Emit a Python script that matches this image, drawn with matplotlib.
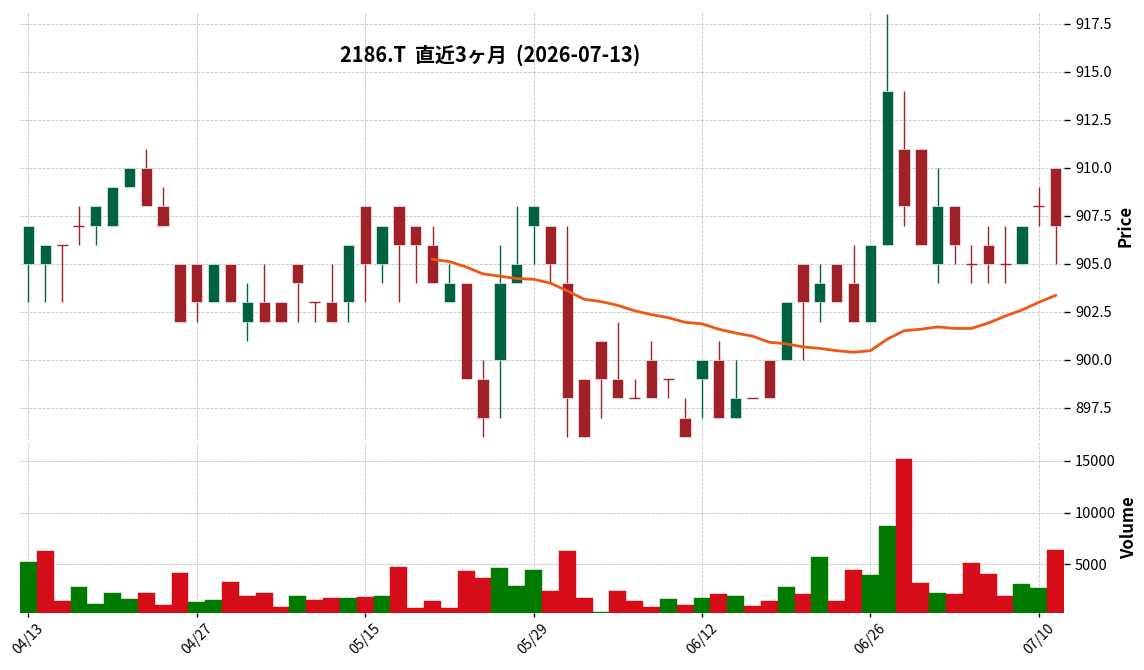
import numpy as np
import pandas as pd
import matplotlib
matplotlib.use("Agg")
import matplotlib.pyplot as plt

plt.rcParams['font.family'] = ['Noto Sans CJK JP', 'DejaVu Sans']

# 東証の営業日 (祝日を除く)
holidays = ['2026-04-29', '2026-05-04', '2026-05-05', '2026-05-06']
dates = pd.bdate_range('2026-04-13', '2026-07-13', freq='C', holidays=holidays)

opens = [905, 905, 906, 907, 907, 907, 909, 910, 908, 905,
         905, 903, 905, 902, 903, 903, 905, 903, 903, 903,
         908, 905, 908, 907, 906, 903, 904, 899, 900, 904,
         907, 907, 904, 899, 901, 899, 898, 900, 899, 897,
         899, 900, 897, 898, 900, 900, 905, 903, 905, 904,
         902, 906, 911, 911, 905, 908, 905, 906, 905, 905,
         908, 910]
highs = [907, 906, 906, 908, 908, 909, 910, 911, 909, 905,
         905, 905, 905, 904, 905, 903, 905, 903, 905, 906,
         908, 907, 908, 907, 907, 905, 904, 900, 906, 908,
         908, 907, 907, 899, 901, 902, 899, 901, 899, 898,
         900, 901, 900, 898, 900, 903, 905, 905, 905, 906,
         906, 918, 914, 911, 910, 908, 906, 907, 907, 907,
         909, 910]
lows = [903, 903, 903, 906, 906, 907, 909, 908, 907, 902,
        902, 903, 903, 901, 902, 902, 902, 902, 902, 902,
        903, 904, 903, 904, 904, 903, 899, 896, 897, 904,
        905, 904, 896, 896, 897, 898, 898, 898, 898, 896,
        897, 897, 897, 898, 898, 900, 900, 902, 903, 902,
        902, 906, 907, 906, 904, 905, 904, 904, 904, 905,
        907, 905]
closes = [907, 906, 906, 907, 908, 909, 910, 908, 907, 902,
          903, 905, 903, 903, 902, 902, 904, 903, 902, 906,
          905, 907, 906, 906, 904, 904, 899, 897, 904, 905,
          908, 905, 898, 896, 899, 898, 898, 898, 899, 896,
          900, 897, 898, 898, 898, 903, 903, 904, 903, 902,
          906, 914, 908, 906, 908, 906, 905, 905, 905, 907,
          908, 907]
volumes = [5220, 6280, 1470, 2820, 1190, 2240, 1670, 2240, 1090, 4170,
           1380, 1570, 3300, 1950, 2240, 900, 1950, 1570, 1760, 1760,
           1860, 1950, 4740, 800, 1470, 800, 4360, 3690, 4650, 2920,
           4450, 2440, 6280, 1760, 400, 2440, 1470, 900, 1670, 1090,
           1760, 2150, 1950, 990, 1470, 2820, 2150, 5700, 1470, 4450,
           3970, 8690, 15220, 3200, 2240, 2150, 5130, 4070, 1950, 3110,
           2720, 6380]

title = '2186.T  直近3ヶ月  (2026-07-13)'
mav = 25

up_c, down_c = '#006340', '#a02128'
vup_c, vdown_c = '#007a00', '#d50d18'
ma_c = '#ef5714'
grid_c = '#c4c4c4'

o = np.array(opens, float)
h = np.array(highs, float)
l = np.array(lows, float)
c = np.array(closes, float)
v = np.array(volumes, float)
x = np.arange(len(c))

fig = plt.figure(figsize=(11.44, 6.7), dpi=100)
ax = fig.add_axes([20 / 1144, 1 - 440 / 670, 1044 / 1144, 428 / 670])
axv = fig.add_axes([20 / 1144, 1 - 612.7 / 670, 1044 / 1144, 169.7 / 670], sharex=ax)

# ローソク足
up = c > o
colors = np.where(up, up_c, down_c)
ax.vlines(x, l, h, colors=colors, linewidth=1.0, zorder=2)
body_bottom = np.minimum(o, c)
body_h = np.abs(c - o)
ax.bar(x, body_h, bottom=body_bottom, width=0.67, color=colors,
       edgecolor='white', linewidth=0.4, zorder=3)
# 寄引同時線
doji = body_h == 0
ax.hlines(c[doji], x[doji] - 0.33, x[doji] + 0.33, colors=colors[doji],
          linewidth=1.0, zorder=3)

# 移動平均
ma = pd.Series(c).rolling(mav).mean()
ax.plot(x, ma, color=ma_c, linewidth=2.0, zorder=4)

# 出来高 (前日終値比で色分け)
prev = np.concatenate([[o[0]], c[:-1]])
vcolors = np.where(c > prev, vup_c, vdown_c)
axv.bar(x, v, width=1.0, color=vcolors, edgecolor=vcolors, linewidth=0.3)

ax.set_xlim(-0.5, len(c) - 0.5)
ax.set_ylim(895.83, 918.12)
axv.set_ylim(300, v.max() * 1.1)

ax.set_yticks(np.arange(897.5, 918, 2.5))
ax.set_yticklabels([f'{t:.1f}' for t in np.arange(897.5, 918, 2.5)])
axv.set_yticks([5000, 10000, 15000])

tick_pos = list(range(0, len(c), 10))
axv.set_xticks(tick_pos)
axv.set_xticklabels([dates[i].strftime('%m/%d') for i in tick_pos],
                    rotation=45, ha='center', fontsize=10)
ax.tick_params(axis='x', which='both', bottom=False, labelbottom=False)

for a in (ax, axv):
    for s in a.spines.values():
        s.set_visible(False)
    a.yaxis.tick_right()
    a.yaxis.set_label_position('right')
    a.tick_params(axis='y', length=4, width=1, labelsize=10.5, pad=4)
    a.tick_params(axis='x', length=3, width=1)
    a.grid(True, linestyle='--', color=grid_c, linewidth=0.6)
    a.set_axisbelow(True)

ax.set_ylabel('Price', fontsize=12, fontweight='bold', labelpad=3)
axv.set_ylabel('Volume', fontsize=12, fontweight='bold', labelpad=3)

fig.text(490 / 1144, 1 - 55 / 670, title, ha='center', va='center',
         fontsize=14.4, fontweight='bold')

fig.savefig('out.png', dpi=100)
